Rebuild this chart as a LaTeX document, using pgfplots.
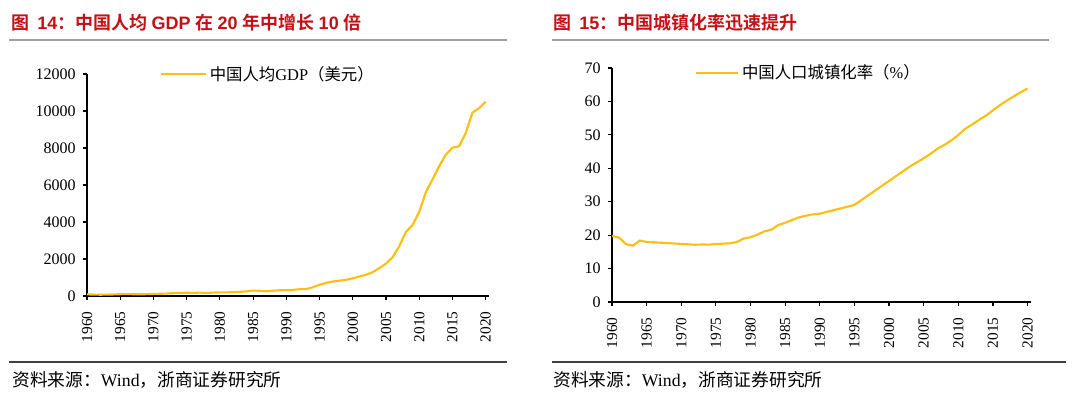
\documentclass[border=0pt]{standalone}
\usepackage{fontspec}
\usepackage{pgfplots}
\pgfplotsset{compat=1.18}
\setmainfont{Liberation Serif}
\newfontfamily\cjk{Noto Sans CJK SC}
\newfontfamily\cjkb{Noto Sans CJK SC Bold}
\newfontfamily\arialb{Liberation Sans Bold}
\definecolor{titlered}{RGB}{196,16,22}
\definecolor{linegold}{RGB}{255,190,20}
\definecolor{rulegray}{RGB}{160,160,160}
\definecolor{darkrule}{RGB}{64,64,64}
\pgfplotsset{
  mystyle/.style={
    scale only axis, anchor=south west,
    axis x line*=bottom, axis y line*=left,
    axis line style={-, line width=1pt, black},
    tick align=outside, major tick length=3pt,
    tick style={line width=0.9pt, black},
    xtick={1960,1965,...,2020},
    x tick label style={rotate=90, anchor=east, font=\fontsize{11.5}{12}\selectfont},
    y tick label style={font=\fontsize{12}{13}\selectfont},
    xticklabel shift=5pt, yticklabel shift=2pt,
    /pgf/number format/assume math mode=true,
    /pgf/number format/1000 sep={},
    scaled y ticks=false,
    xmin=1960, xmax=2020.5,
    legend cell align=left,
    legend image code/.code={\draw[#1] (0pt,0pt) -- (31.5pt,0pt);},
    legend style={draw=none, fill=none, inner sep=0pt,
      font=\fontsize{12.3}{13}\selectfont,
      /tikz/every even column/.style={column sep=0pt}},
  }
}
\begin{document}
\begin{tikzpicture}
\path (0,0) rectangle (810pt,299.25pt);
\begin{scope}[x=0.75pt,y=-0.75pt,shift={(0pt,299.25pt)}]
  \node[anchor=west, inner sep=0pt, text=titlered, font=\fontsize{13.5}{14}\selectfont] at (11,23)
    {\cjkb 图\ \ \arialb 14\cjkb ：中国人均 \arialb GDP \cjkb 在 \arialb 20 \cjkb 年中增长 \arialb 10 \cjkb 倍};
  \node[anchor=west, inner sep=0pt, text=titlered, font=\fontsize{13.5}{14}\selectfont] at (553,23)
    {\cjkb 图\ \ \arialb 15\cjkb ：中国城镇化率迅速提升};
  \draw[rulegray, line width=1.2pt] (9,40) -- (507,40);
  \draw[rulegray, line width=1.2pt] (552,40) -- (1049,40);
  \draw[darkrule, line width=0.8pt] (9,362) -- (507,362);
  \draw[darkrule, line width=0.8pt] (552,362) -- (1066,362);
  \node[anchor=west, inner sep=0pt, font=\fontsize{13.3}{14}\selectfont] at (12,380)
    {\cjk 资料来源：\rmfamily Wind\cjk ，浙商证券研究所};
  \node[anchor=west, inner sep=0pt, font=\fontsize{13.3}{14}\selectfont] at (553,380)
    {\cjk 资料来源：\rmfamily Wind\cjk ，浙商证券研究所};
\end{scope}

\begin{axis}[mystyle,
  at={({87*0.75pt},{103*0.75pt})},
  width=301.5pt, height=166.5pt,
  ymin=0, ymax=12000, ytick={0,2000,...,12000},
  legend style={at={(0.18,1.0)}, anchor=west},
  legend image code/.code={\draw[#1] (0pt,0pt) -- (31.5pt,0pt); \path (31.5pt,0pt) -- (34pt,0pt);},
]
\addplot[linegold, line width=1.6pt] table {
x y
1960 90
1961 76
1962 70
1963 74
1964 85
1965 98
1966 104
1967 97
1968 91
1969 100
1970 113
1971 119
1972 132
1973 157
1974 160
1975 178
1976 165
1977 185
1978 156
1979 184
1980 195
1981 197
1982 203
1983 225
1984 251
1985 294
1986 282
1987 252
1988 284
1989 311
1990 318
1991 333
1992 366
1993 377
1994 473
1995 610
1996 709
1997 782
1998 829
1999 873
2000 959
2001 1053
2002 1149
2003 1289
2004 1509
2005 1753
2006 2099
2007 2694
2008 3468
2009 3832
2010 4550
2011 5614
2012 6301
2013 7020
2014 7636
2015 8016
2016 8094
2017 8817
2018 9905
2019 10144
2020 10500
};
\addlegendentry{{\cjk 中国人均}GDP{\cjk （美元）}}
\end{axis}

\begin{axis}[mystyle,
  at={({612*0.75pt},{97*0.75pt})},
  width=314.25pt, height=175.5pt,
  ymin=0, ymax=70, ytick={0,10,...,70},
  legend style={at={(0.198,0.979)}, anchor=west},
]
\addplot[linegold, line width=1.6pt] table {
x y
1960 19.75
1961 19.29
1962 17.33
1963 16.84
1964 18.37
1965 17.98
1966 17.86
1967 17.74
1968 17.62
1969 17.50
1970 17.38
1971 17.26
1972 17.13
1973 17.20
1974 17.16
1975 17.34
1976 17.44
1977 17.55
1978 17.92
1979 18.96
1980 19.39
1981 20.16
1982 21.13
1983 21.62
1984 23.01
1985 23.71
1986 24.52
1987 25.32
1988 25.81
1989 26.21
1990 26.41
1991 26.94
1992 27.46
1993 27.99
1994 28.51
1995 29.04
1996 30.48
1997 31.91
1998 33.35
1999 34.78
2000 36.22
2001 37.66
2002 39.09
2003 40.53
2004 41.76
2005 42.99
2006 44.34
2007 45.89
2008 46.99
2009 48.34
2010 49.95
2011 51.83
2012 53.10
2013 54.49
2014 55.75
2015 57.33
2016 58.84
2017 60.24
2018 61.50
2019 62.71
2020 63.89
};
\addlegendentry{{\cjk 中国人口城镇化率（}\%{\cjk ）}}
\end{axis}
\end{tikzpicture}
\end{document}
